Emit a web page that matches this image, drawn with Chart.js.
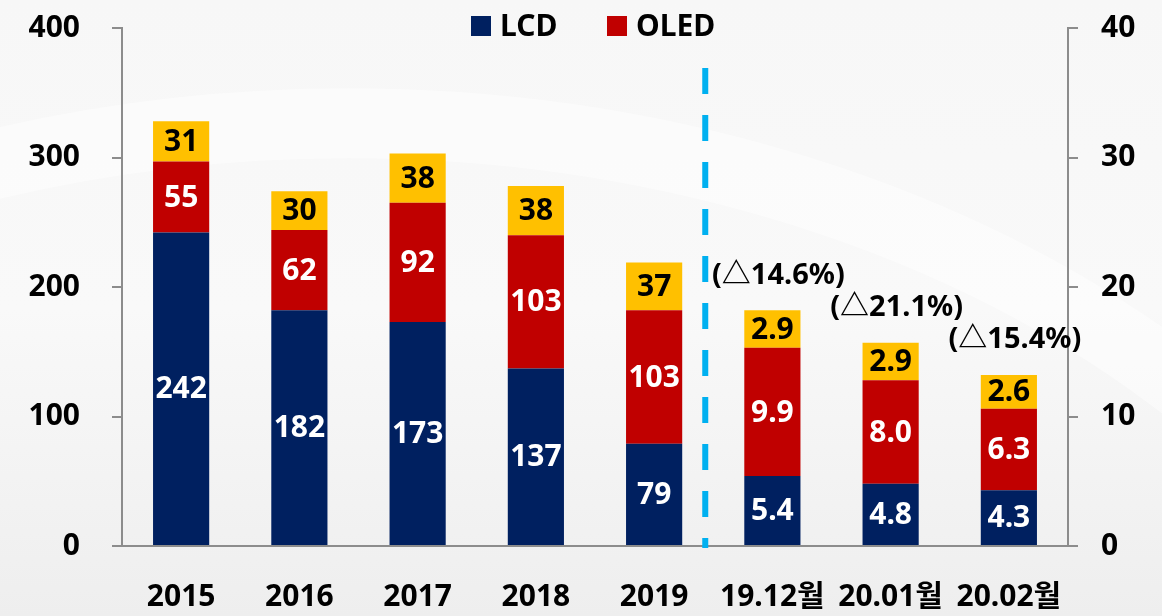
<!DOCTYPE html>
<html>
<head>
<meta charset="utf-8">
<script src="https://cdn.jsdelivr.net/npm/chart.js@4"></script>
<style>
  html, body { margin: 0; padding: 0; background: #f5f5f5; }
  #wrap { width: 1162px; height: 616px; }
</style>
</head>
<body>
<div id="wrap"><canvas id="chart" width="1162" height="616"></canvas></div>
<script>
const categories = ['2015', '2016', '2017', '2018', '2019', '19.12월', '20.01월', '20.02월'];

// annual values (left axis)
const lcdAnnual = [242, 182, 173, 137, 79];
const oledAnnual = [55, 62, 92, 103, 103];
const otherAnnual = [31, 30, 38, 38, 37];

// monthly values (right axis)
const lcdMonthly = [5.4, 4.8, 4.3];
const oledMonthly = [9.9, 8.0, 6.3];
const otherMonthly = [2.9, 2.9, 2.6];
const monthlyChange = ['(△14.6%)', '(△21.1%)', '(△15.4%)'];

const FONT = "'Noto Sans', 'Noto Sans CJK KR', sans-serif";
const NAVY = '#002060', RED = '#C00000', YELLOW = '#FFC000';

const nMonths = lcdMonthly.length;
const nYears = lcdAnnual.length;
const annual = arr => arr.concat(Array(nMonths).fill(null));
const monthly = arr => Array(nYears).fill(null).concat(arr);

function bar(label, data, color, axis) {
  return { label, data, backgroundColor: color, yAxisID: axis, borderWidth: 0,
           barPercentage: 0.95, categoryPercentage: 0.5 };
}

const backgroundPlugin = {
  id: 'bg',
  beforeDraw(chart) {
    const { ctx, width, height } = chart;
    ctx.save();
    const g = ctx.createLinearGradient(0, 0, 0, height);
    g.addColorStop(0, '#f7f7f7');
    g.addColorStop(0.5, '#f9f9f9');
    g.addColorStop(1, '#eeeeee');
    ctx.fillStyle = g;
    ctx.fillRect(0, 0, width, height);
    // soft white band across the back
    ctx.beginPath();
    ctx.ellipse(width * 0.3, height * 1.6, width * 1.0, height * 1.4, 0, Math.PI, Math.PI * 2);
    ctx.lineWidth = 70;
    ctx.strokeStyle = 'rgba(255,255,255,0.45)';
    ctx.stroke();
    ctx.restore();
  }
};

const labelPlugin = {
  id: 'labels',
  afterDatasetsDraw(chart) {
    const { ctx, chartArea } = chart;
    ctx.save();
    ctx.font = `bold 30px ${FONT}`;
    ctx.textAlign = 'center';
    ctx.textBaseline = 'middle';
    chart.data.datasets.forEach((ds, di) => {
      const meta = chart.getDatasetMeta(di);
      const monthlyAxis = ds.yAxisID === 'y2';
      meta.data.forEach((el, i) => {
        const v = ds.data[i];
        if (v == null) return;
        ctx.fillStyle = ds.backgroundColor === YELLOW ? '#000' : '#fff';
        const txt = monthlyAxis ? v.toFixed(1) : String(v);
        ctx.fillText(txt, el.x, (el.y + el.base) / 2 + 1);
      });
    });

    // change rates above monthly bars
    const topMeta = chart.getDatasetMeta(5);
    ctx.fillStyle = '#000';
    ctx.font = `bold 29px ${FONT}`;
    monthlyChange.forEach((t, k) => {
      const el = topMeta.data[nYears + k];
      ctx.fillText(t, el.x + 6, el.y - 35);
    });

    // dashed divider between annual and monthly
    const xs = chart.scales.x;
    const dx = (xs.getPixelForValue(nYears - 1) + xs.getPixelForValue(nYears)) / 2 - 8;
    ctx.beginPath();
    ctx.setLineDash([26, 21]);
    ctx.lineWidth = 6;
    ctx.strokeStyle = '#00B0F0';
    ctx.moveTo(dx, chartArea.top + 40);
    ctx.lineTo(dx, chartArea.bottom + 2);
    ctx.stroke();
    ctx.setLineDash([]);

    // legend (LCD / OLED only)
    ctx.font = `bold 30px ${FONT}`;
    ctx.textAlign = 'left';
    const items = [[chart.data.datasets[0], 471], [chart.data.datasets[1], 607]];
    items.forEach(([ds, x]) => {
      ctx.fillStyle = ds.backgroundColor;
      ctx.fillRect(x, 16, 20, 20);
      ctx.fillStyle = '#000';
      ctx.fillText(ds.label, x + 29, 27);
    });
    ctx.restore();
  }
};

const axisColor = '#8c8c8c';
const tickFont = { family: FONT, size: 30, weight: 'bold' };

function fixY(width) {
  return s => { s.width = width; s.paddingTop = 0; s.paddingBottom = 0; };
}

new Chart(document.getElementById('chart'), {
  type: 'bar',
  data: {
    labels: categories,
    datasets: [
      bar('LCD', annual(lcdAnnual), NAVY, 'y'),
      bar('OLED', annual(oledAnnual), RED, 'y'),
      bar('기타', annual(otherAnnual), YELLOW, 'y'),
      bar('LCD', monthly(lcdMonthly), NAVY, 'y2'),
      bar('OLED', monthly(oledMonthly), RED, 'y2'),
      bar('기타', monthly(otherMonthly), YELLOW, 'y2')
    ]
  },
  options: {
    responsive: false,
    animation: false,
    layout: { padding: { top: 28, left: 26, right: 26, bottom: 0 } },
    plugins: { legend: { display: false }, tooltip: { enabled: false } },
    scales: {
      x: {
        stacked: true,
        grid: { drawOnChartArea: false, drawTicks: false },
        border: { color: axisColor, width: 2 },
        ticks: { color: '#000', font: tickFont, padding: 33, maxRotation: 0, autoSkip: false },
        afterFit: s => { s.height = 70; }
      },
      y: {
        stacked: true, position: 'left', min: 0, max: 400,
        grid: { drawOnChartArea: false, tickLength: 10, color: axisColor, lineWidth: 2 },
        border: { color: axisColor, width: 2 },
        ticks: { stepSize: 100, color: '#000', font: tickFont, padding: 32 },
        afterFit: fixY(96)
      },
      y2: {
        stacked: true, position: 'right', min: 0, max: 40,
        grid: { drawOnChartArea: false, tickLength: 10, color: axisColor, lineWidth: 2 },
        border: { color: axisColor, width: 2 },
        ticks: { stepSize: 10, color: '#000', font: tickFont, padding: 23 },
        afterFit: fixY(68)
      }
    }
  },
  plugins: [backgroundPlugin, labelPlugin]
});
</script>
</body>
</html>
